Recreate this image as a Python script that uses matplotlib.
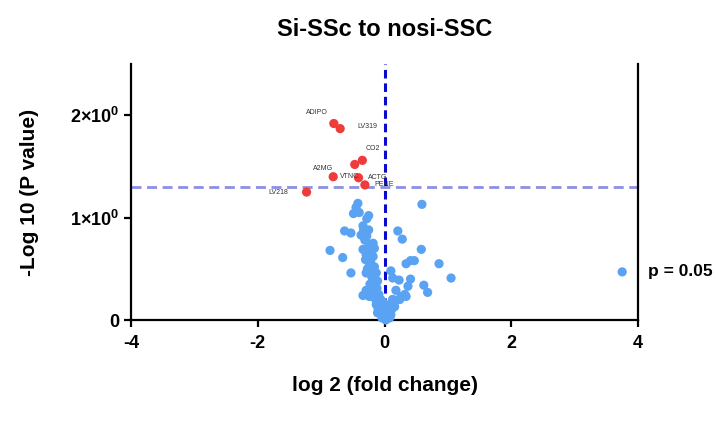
import matplotlib
matplotlib.use("Agg")
import matplotlib.pyplot as plt

plt.rcParams['font.family'] = ['Liberation Sans', 'DejaVu Sans']
plt.rcParams['mathtext.fontset'] = 'custom'
plt.rcParams['mathtext.rm'] = 'Liberation Sans'
plt.rcParams['mathtext.bf'] = 'Liberation Sans:bold'

title = "Si-SSc to nosi-SSC"
xlabel = "log 2 (fold change)"
ylabel = "-Log 10 (P value)"
x_ticks = [-4, -2, 0, 2, 4]
y_ticks = [0, 1, 2]
y_tick_labels = ["0", r"$\mathbf{1{\times}10^{0}}$", r"$\mathbf{2{\times}10^{0}}$"]
threshold = 1.301  # -log10(0.05)
threshold_label = "p = 0.05"

# significant (red) proteins
sig_labels = ["ADIPO", "LV319", "CO2", "VTNC", "A2MG", "ACTG", "PENE", "LV218"]
sig_x = [-0.80, -0.70, -0.35, -0.47, -0.81, -0.41, -0.31, -1.23]
sig_y = [1.92, 1.87, 1.56, 1.52, 1.40, 1.39, 1.32, 1.25]

# non-significant (blue) proteins
ns_x = [-0.42, -0.45, -0.49, -0.40, -0.25, -0.28, -0.34, -0.33, -0.25, -0.63,
        -0.53, -0.37, -0.28, -0.18, -0.24, -0.34, -0.16, -0.86, -0.66, -0.29,
        -0.18, -0.30, -0.24, -0.16, -0.53, -0.29, -0.13, -0.18, -0.11, -0.21,
        -0.29, -0.34, -0.24, -0.13, -0.08, -0.13, -0.05, -0.11, -0.03, 0.02,
        0.05, 0.11, 0.13, 0.08, 0.59, 0.21, 0.28, 0.58, 0.34, 0.41,
        0.47, 0.86, 0.10, 0.13, 0.23, 0.41, 1.05, 0.62, 0.68, 0.37,
        0.34, 0.26, 0.18, 0.13, 0.08, 0.03, 0.11, 0.00, 0.08, 0.24,
        0.32, 0.16, 3.75, -0.31, -0.26, -0.22, -0.27, -0.20, -0.23, -0.19,
        -0.15, -0.22, -0.17, -0.12, -0.09, -0.06, -0.02, 0.04, -0.07, -0.10,
        -0.14, 0.06, 0.01, -0.04, 0.10, 0.15]
ns_y = [1.14, 1.10, 1.04, 1.05, 1.02, 0.99, 0.92, 0.88, 0.88, 0.87,
        0.85, 0.83, 0.82, 0.75, 0.74, 0.69, 0.70, 0.68, 0.61, 0.64,
        0.62, 0.59, 0.56, 0.52, 0.46, 0.46, 0.46, 0.41, 0.38, 0.33,
        0.29, 0.24, 0.23, 0.23, 0.18, 0.15, 0.13, 0.07, 0.05, 0.00,
        0.10, 0.15, 0.20, 0.07, 1.13, 0.87, 0.79, 0.69, 0.55, 0.58,
        0.58, 0.55, 0.48, 0.41, 0.39, 0.40, 0.41, 0.34, 0.27, 0.33,
        0.23, 0.23, 0.29, 0.20, 0.15, 0.10, 0.10, 0.03, 0.02, 0.20,
        0.25, 0.13, 0.47, 0.78, 0.66, 0.57, 0.50, 0.42, 0.35, 0.30,
        0.36, 0.48, 0.27, 0.31, 0.25, 0.20, 0.17, 0.12, 0.09, 0.11,
        0.20, 0.05, 0.08, 0.02, 0.05, 0.18]

# label offsets in points (style)
label_offsets = [(-12, 8), (19.5, 1.5), (7.5, 8.4), (-4, -9), (-7, 5.8), (13.7, 0.5), (14, 0), (-20.5, 0)]

fig = plt.figure(figsize=(7.18, 4.22), dpi=100)
ax = fig.add_axes([0.1825, 0.2417, 0.7061, 0.6063])

ax.scatter(ns_x, ns_y, s=44, color="#5AA2F2", edgecolors="none", zorder=3, clip_on=False)
ax.scatter(sig_x, sig_y, s=44, color="#F03B3B", edgecolors="none", zorder=4, clip_on=False)

for lab, xv, yv, off in zip(sig_labels, sig_x, sig_y, label_offsets):
    ax.annotate(lab, (xv, yv), xytext=off, textcoords="offset points",
                ha="center", va="center", fontsize=5, color="#333333", zorder=5)

ax.axhline(threshold, color="#8C90E2", linestyle=(0, (3.6, 2.0)), linewidth=2, zorder=2)
ax.axvline(0, color="#0A0ACC", linestyle=(0, (2.8, 1.6)), linewidth=2.2, zorder=2)

ax.set_xlim(-4, 4)
ax.set_ylim(0, 2.5)
ax.set_xticks(x_ticks)
ax.set_xticklabels([str(t) for t in x_ticks], fontweight="bold", fontsize=13)
ax.set_yticks(y_ticks)
ax.set_yticklabels(y_tick_labels, fontsize=13, fontweight="bold")

for side in ["left", "bottom", "right"]:
    ax.spines[side].set_linewidth(1.6)
    ax.spines[side].set_color("black")
ax.spines["top"].set_visible(False)
ax.tick_params(axis="both", direction="out", length=5, width=1.6, colors="black")
ax.tick_params(axis="x", pad=6)

ax.set_title(title, fontsize=17, fontweight="bold", pad=20)
ax.set_xlabel(xlabel, fontsize=15, fontweight="bold", labelpad=17)
ax.set_ylabel(ylabel, fontsize=15, fontweight="bold", labelpad=22)

ax.text(1.02, 0.19, threshold_label, transform=ax.transAxes, fontsize=12.5,
        fontweight="bold", ha="left", va="center")

fig.savefig("out.png", dpi=100)
